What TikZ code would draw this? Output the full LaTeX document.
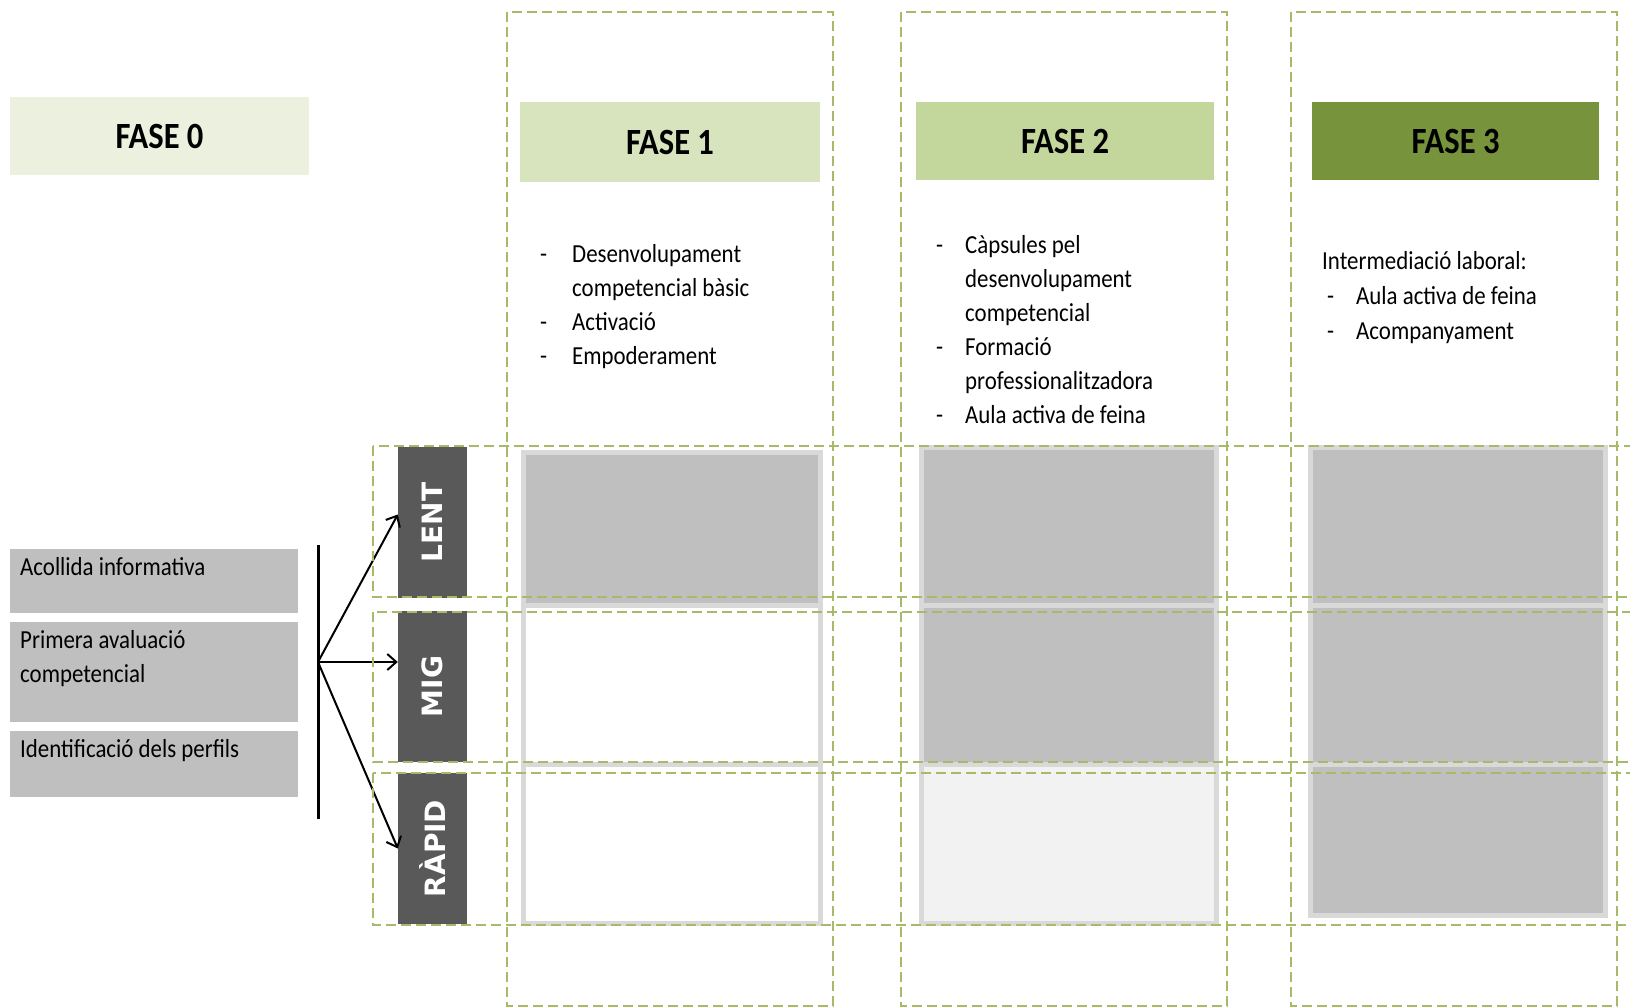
\documentclass[tikz,border=0pt]{standalone}
\usepackage{fontspec, graphicx, xcolor}
\setmainfont[FakeStretch=0.88]{Carlito}
\newfontfamily\labelfont{DejaVu Sans}
\usetikzlibrary{arrows.meta,positioning}
\definecolor{fasezero}{RGB}{235,241,222}
\definecolor{faseone}{RGB}{215,228,189}
\definecolor{fasetwo}{RGB}{195,214,155}
\definecolor{fasethree}{RGB}{119,147,60}
\definecolor{framegreen}{RGB}{165,187,105}
\definecolor{speedgray}{RGB}{89,89,89}
\definecolor{cellgray}{RGB}{191,191,191}
\definecolor{celledge}{RGB}{217,217,217}
\definecolor{celllight}{RGB}{242,242,242}

\begin{document}
\begin{tikzpicture}[x=1pt, y=-1pt,
  every node/.style={inner sep=0pt, font=\fontsize{26}{34}\selectfont},
  fase/.style={minimum height=78pt, font=\fontsize{37}{40}\selectfont\bfseries},
  speed/.style={fill=speedgray, text=white, minimum width=69pt, minimum height=151pt, font=\labelfont\fontsize{28}{30}\selectfont\bfseries},
  stepbox/.style={fill=cellgray, anchor=north west, inner xsep=10pt, text width=268pt, align=flush left, text height=26pt},
  cell/.style={draw=celledge, line width=5pt},
  frame/.style={draw=framegreen, line width=1.5pt, dash pattern=on 10pt off 5pt},
  arrow/.style={-{Straight Barb[length=9pt,width=16pt]}, line width=2pt}]
\useasboundingbox (0,0) rectangle (1630,1008);
\clip (0,0) rectangle (1630,1008);

% cells of the three phases
\path[cell, fill=cellgray] (523,452) rectangle (820,605);
\path[cell, fill=white] (523,605) rectangle (820,764);
\path[cell, fill=white] (523,764) rectangle (820,923);
\path[cell, fill=cellgray] (921,447) rectangle (1216,605);
\path[cell, fill=cellgray] (921,605) rectangle (1216,764);
\path[cell, fill=celllight] (921,764) rectangle (1216,923);
\path[cell, fill=cellgray] (1310,447) rectangle (1605,605);
\path[cell, fill=cellgray] (1310,605) rectangle (1605,764);
\path[cell, fill=cellgray] (1310,764) rectangle (1605,915);

% phase headers
\node[fase, fill=fasezero, minimum width=299pt] (fase0) at (159.5,136.5) {FASE 0};
\node[fase, fill=faseone, minimum width=300pt, minimum height=80pt] (fase1) at (670,142) {FASE 1};
\node[fase, fill=fasetwo, minimum width=298pt] (fase2) at (1065,141) {FASE 2};
\node[fase, fill=fasethree, minimum width=287pt] (fase3) at (1455.5,141) {FASE 3};

% phase contents
\node[anchor=base west] (fase1txt) at (540,263) {\begin{tabular}[t]{@{}p{32pt}@{}l@{}}
- & Desenvolupament\\
  & competencial bàsic\\
- & Activació\\
- & Empoderament
\end{tabular}};
\node[anchor=base west] (fase2txt) at (936,254) {\begin{tabular}[t]{@{}p{29pt}@{}l@{}}
- & Càpsules pel\\
  & desenvolupament\\
  & competencial\\
- & Formació\\
  & professionalitzadora\\
- & Aula activa de feina
\end{tabular}};
\node[anchor=base west, font=\fontsize{26}{35}\selectfont] (fase3txt) at (1322,270) {\begin{tabular}[t]{@{}p{34pt}@{}l@{}}
\multicolumn{2}{@{}l@{}}{Intermediació laboral:}\\
\hspace*{5pt}- & Aula activa de feina\\
\hspace*{5pt}- & Acompanyament
\end{tabular}};

% phase 0 steps
\node[stepbox, text depth=38pt] (acollida) at (10,549) {Acollida informativa};
\node[stepbox, text depth=74pt] (primera) at (10,622) {Primera avaluació\\competencial};
\node[stepbox, text depth=40pt] (perfils) at (10,731) {Identificació dels perfils};

% speeds
\node[speed] (lent) at (432.5,522.5) {\rotatebox{90}{LENT}};
\node[speed] (mig) at (432.5,686.5) {\rotatebox{90}{MIG}};
\node[speed] (rapid) at (432.5,848.5) {\rotatebox{90}{RÀPID}};

\coordinate (bartop) at (318,545);
\coordinate (barbot) at (318,819);
\coordinate (fork) at (318,662);
\draw[line width=3pt] (bartop) -- (barbot);
\draw[arrow] (fork) -- ([yshift=8pt]lent.west);
\draw[arrow] (fork) -- (mig.west |- fork);
\draw[arrow] (fork) -- (rapid.west);

% dashed frames
\draw[frame] (507,12) rectangle (833,1006);
\draw[frame] (901,12) rectangle (1227,1006);
\draw[frame] (1291,12) rectangle (1617,1006);
\draw[frame] (373,446) rectangle (1640,597);
\draw[frame] (373,612) rectangle (1640,762);
\draw[frame] (373,773) rectangle (1640,925);
\end{tikzpicture}
\end{document}
